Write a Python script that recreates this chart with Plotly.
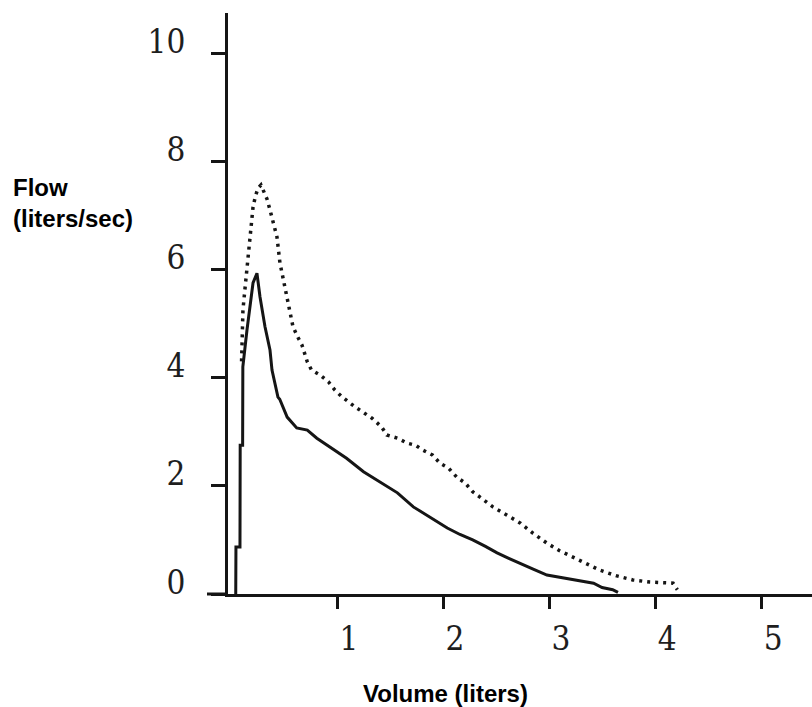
import plotly.graph_objects as go

# Baseline (solid) flow-volume curve
solid_volume = [0.045, 0.047, 0.085, 0.087, 0.11, 0.112, 0.151, 0.208, 0.245, 0.274, 0.321, 0.368,
                0.387, 0.443, 0.46, 0.53, 0.62, 0.72, 0.81, 0.93, 1.09, 1.25, 1.41, 1.57, 1.72,
                1.88, 2.04, 2.16, 2.28, 2.4, 2.51, 2.62, 2.73, 2.85, 2.98, 3.17, 3.3, 3.42, 3.5,
                3.6, 3.65]
solid_flow = [0, 0.87, 0.87, 2.75, 2.75, 4.2, 4.88, 5.75, 5.93, 5.49, 4.94, 4.51, 4.14, 3.64,
              3.6, 3.27, 3.07, 3.03, 2.88, 2.72, 2.51, 2.26, 2.07, 1.87, 1.61, 1.42, 1.22, 1.1,
              1.0, 0.88, 0.76, 0.66, 0.57, 0.46, 0.35, 0.29, 0.24, 0.2, 0.12, 0.08, 0.03]

# Second (dotted) flow-volume curve
dotted_volume = [0.10, 0.105, 0.113, 0.13, 0.151, 0.165, 0.179, 0.195, 0.208, 0.23, 0.255, 0.283,
                 0.31, 0.34, 0.368, 0.40, 0.434, 0.462, 0.495, 0.528, 0.555, 0.585, 0.63, 0.67,
                 0.72, 0.76, 0.84, 0.92, 0.98, 1.05, 1.17, 1.25, 1.33, 1.42, 1.47, 1.57, 1.66,
                 1.74, 1.81, 1.90, 1.97, 2.05, 2.13, 2.21, 2.28, 2.37, 2.47, 2.6, 2.73, 2.85,
                 2.98, 3.1, 3.23, 3.35, 3.48, 3.63, 3.79, 3.95, 4.08, 4.17, 4.21]
dotted_flow = [4.3, 4.75, 5.25, 5.6, 5.99, 6.25, 6.49, 6.85, 7.15, 7.35, 7.5, 7.56, 7.45, 7.3,
               7.1, 6.85, 6.6, 6.12, 5.8, 5.49, 5.2, 4.94, 4.75, 4.6, 4.29, 4.14, 4.05, 3.92,
               3.77, 3.64, 3.46, 3.36, 3.25, 3.09, 2.94, 2.88, 2.79, 2.75, 2.66, 2.57, 2.42,
               2.33, 2.16, 2.05, 1.89, 1.76, 1.61, 1.46, 1.31, 1.12, 0.94, 0.8, 0.68, 0.56,
               0.44, 0.34, 0.26, 0.22, 0.2, 0.2, 0.08]

x_ticks = [1, 2, 3, 4, 5]
x_tick_labels = ["1", "2", "3", "4", "5"]
y_ticks = [0, 2, 4, 6, 8, 10]
y_tick_labels = ["0", "2", "4", "6", "8", "10"]

ink = "#151515"
tick_font = dict(family="DejaVu Serif Condensed, DejaVu Serif, serif", size=33, color="#1e1e1e")
title_font = dict(family="Liberation Sans, Arial, sans-serif", size=24, color="#000000")

fig = go.Figure()
fig.add_trace(go.Scatter(x=dotted_volume, y=dotted_flow, mode="lines",
                         line=dict(color=ink, width=3.5, dash="3px,5px"),
                         showlegend=False, hoverinfo="skip"))
fig.add_trace(go.Scatter(x=solid_volume, y=solid_flow, mode="lines",
                         line=dict(color=ink, width=3), showlegend=False, hoverinfo="skip"))

fig.update_layout(
    width=812, height=707,
    margin=dict(l=228, r=0, t=13, b=113),
    paper_bgcolor="white", plot_bgcolor="white",
    xaxis=dict(range=[-0.028, 5.48], showgrid=False, zeroline=False, automargin=False,
               showline=True, linecolor=ink, linewidth=3,
               ticks="outside", ticklen=12, tickwidth=3, tickcolor=ink,
               tickvals=x_ticks, ticktext=x_tick_labels, tickfont=tick_font,
               ticklabelstandoff=1, ticklabelshift=12),
    yaxis=dict(range=[0, 10.74], showgrid=False, zeroline=False, automargin=False,
               showline=True, linecolor=ink, linewidth=3,
               ticks="outside", ticklen=14, tickwidth=2.5, tickcolor=ink,
               tickvals=y_ticks, ticktext=y_tick_labels, tickfont=tick_font,
               ticklabelstandoff=19, ticklabelshift=-12),
    shapes=[dict(type="line", xref="paper", yref="paper", x0=-21 / 584, x1=0, y0=0, y1=0,
                 line=dict(color=ink, width=3))],
    annotations=[
        dict(text="<b>Flow<br>(liters/sec)</b>", xref="paper", yref="paper",
             x=-228 / 584 + 11 / 584, y=1 - (172 - 13) / 581, xanchor="left", yanchor="top",
             align="left", showarrow=False, font=title_font),
        dict(text="<b>Volume (liters)</b>", xref="paper", yref="paper",
             x=(445 - 228) / 584, y=-(693 - 594) / 581, xanchor="center", yanchor="middle",
             showarrow=False, font=title_font),
    ],
)

fig.write_html("out.html", config={"displayModeBar": False},
               post_script="document.body.style.margin='0px';document.body.style.overflow='hidden';")
